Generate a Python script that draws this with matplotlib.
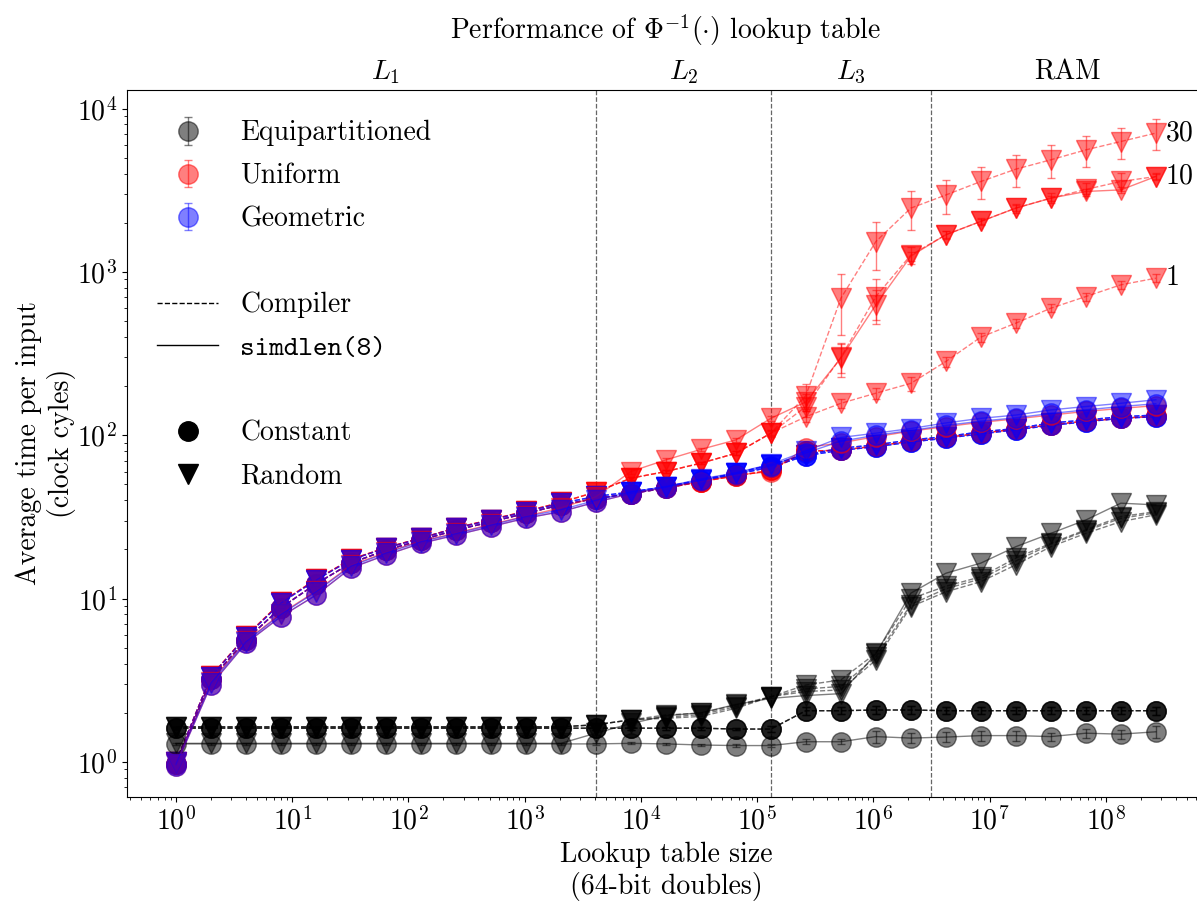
import matplotlib
matplotlib.use("Agg")
import matplotlib.pyplot as plt
from matplotlib.lines import Line2D
from matplotlib.transforms import blended_transform_factory

plt.rcParams.update({
    "font.family": "serif",
    "font.serif": ["cmr10"],
    "mathtext.fontset": "cm",
    "axes.formatter.use_mathtext": True,
    "font.size": 20,
})

# table sizes: 2^0 ... 2^28 doubles
SIZES = [2 ** k for k in range(29)]

# cache boundaries (doubles)
CACHE_EDGES = [4096, 131072, 3145728]
CACHE_LABELS = [r"$L_1$", r"$L_2$", r"$L_3$", "RAM"]
CACHE_LABEL_X = [64, 23170, 642000, 47000000]

# Equipartitioned
EQ_CONST_COMP = [1.61, 1.61, 1.61, 1.61, 1.61, 1.61, 1.61, 1.61, 1.61, 1.61, 1.61, 1.61,
                 1.61, 1.61, 1.61, 1.61, 1.59, 1.59, 2.06, 2.06, 2.08, 2.08, 2.06, 2.06,
                 2.06, 2.06, 2.06, 2.06, 2.06]
EQ_CONST_COMP_ERR = [0.02, 0.02, 0.02, 0.02, 0.02, 0.02, 0.02, 0.02, 0.02, 0.02, 0.02, 0.02,
                     0.03, 0.03, 0.03, 0.03, 0.03, 0.06, 0.12, 0.1, 0.12, 0.12, 0.1, 0.1,
                     0.1, 0.1, 0.1, 0.1, 0.12]
EQ_CONST_SIMD = [1.29, 1.29, 1.29, 1.29, 1.29, 1.29, 1.29, 1.29, 1.29, 1.29, 1.29, 1.29,
                 1.29, 1.30, 1.29, 1.27, 1.26, 1.26, 1.33, 1.33, 1.43, 1.40, 1.42, 1.45,
                 1.45, 1.43, 1.50, 1.48, 1.53]
EQ_CONST_SIMD_ERR = [0.02, 0.02, 0.02, 0.02, 0.02, 0.02, 0.02, 0.02, 0.02, 0.02, 0.02, 0.02,
                     0.02, 0.02, 0.02, 0.02, 0.02, 0.02, 0.05, 0.05, 0.12, 0.1, 0.1, 0.1,
                     0.1, 0.08, 0.1, 0.1, 0.12]
EQ_RAND_SIMD = [1.30, 1.30, 1.30, 1.30, 1.30, 1.30, 1.30, 1.30, 1.30, 1.30, 1.30, 1.30,
                1.50, 1.72, 1.92, 2.00, 2.25, 2.45, 2.55, 2.62, 4.60, 10.8, 14.3, 16.5,
                20.8, 25.1, 30.3, 38.4, 37.5]
EQ_RAND_COMP_1 = [1.64, 1.64, 1.64, 1.64, 1.64, 1.64, 1.64, 1.64, 1.64, 1.64, 1.64, 1.64,
                  1.69, 1.81, 1.85, 1.90, 2.13, 2.51, 2.70, 2.76, 4.21, 8.93, 11.0, 12.7,
                  16.1, 20.8, 25.1, 29.6, 32.6]
EQ_RAND_COMP_10 = [1.64, 1.64, 1.64, 1.64, 1.64, 1.64, 1.64, 1.64, 1.64, 1.64, 1.64, 1.64,
                   1.69, 1.81, 1.94, 1.99, 2.23, 2.51, 2.96, 3.18, 4.63, 10.0, 11.9, 13.6,
                   17.7, 21.8, 26.4, 31.8, 34.1]
EQ_RAND_COMP_30 = [1.64, 1.64, 1.64, 1.64, 1.64, 1.64, 1.64, 1.64, 1.64, 1.64, 1.64, 1.64,
                   1.69, 1.81, 1.88, 1.95, 2.18, 2.51, 2.80, 2.90, 4.40, 9.20, 11.5, 13.2,
                   17.0, 21.5, 26.0, 31.0, 33.5]

# Uniform
UNI_CONST_COMP = [0.97, 3.2, 5.6, 8.8, 12.3, 16.5, 19.8, 22.8, 26.3, 29.5, 33.3, 37.5,
                  41.0, 44.0, 47.5, 52.0, 56.5, 61.0, 80.0, 81.0, 86.0, 92.0, 97.0, 103,
                  109, 116, 122, 127, 131]
UNI_CONST_SIMD = [0.95, 2.96, 5.33, 7.76, 10.5, 15.4, 18.5, 21.8, 24.5, 27.6, 31.1, 34.1,
                  39.0, 44.0, 48.0, 52.0, 57.0, 60.0, 84.0, 90.0, 98.0, 106, 113, 120,
                  126, 133, 140, 146, 152]
UNI_RAND_COMP_1 = [1.0, 3.35, 5.9, 9.5, 13.1, 17.4, 20.5, 23.5, 27.1, 30.5, 34.3, 38.8,
                   45.0, 54.6, 60.0, 67.5, 77.6, 103, 130, 157, 181, 208, 283, 399,
                   486, 600, 707, 834, 916]
UNI_RAND_COMP_1_ERR = [0.1, 0.1, 0.1, 0.2, 0.2, 0.3, 0.3, 0.3, 0.4, 0.4, 0.5, 0.5,
                       1, 1, 1, 1, 2, 3, 10, 10, 15, 20, 20, 25,
                       30, 35, 40, 45, 50]
UNI_RAND_COMP_10 = [1.0, 3.35, 5.9, 9.5, 13.1, 17.4, 20.5, 23.5, 27.1, 30.5, 34.3, 38.8,
                    45.0, 54.6, 60.0, 67.5, 77.6, 103, 150, 300, 707, 1270, 1690, 2040,
                    2460, 2830, 3200, 3580, 3840]
UNI_RAND_COMP_10_ERR = [0.1, 0.1, 0.1, 0.2, 0.2, 0.3, 0.3, 0.3, 0.4, 0.4, 0.5, 0.5,
                        1, 1, 1, 1, 2, 4, 20, 60, 200, 150, 100, 100,
                        150, 200, 300, 450, 200]
UNI_RAND_COMP_30 = [1.0, 3.35, 5.9, 9.5, 13.1, 17.4, 20.5, 23.5, 27.1, 30.5, 34.3, 38.8,
                    45.0, 54.6, 60.0, 67.5, 77.6, 103, 175, 690, 1535, 2460, 2960, 3580,
                    4260, 4860, 5590, 6290, 7080]
UNI_RAND_COMP_30_ERR = [0.1, 0.1, 0.1, 0.2, 0.2, 0.3, 0.3, 0.3, 0.4, 0.4, 0.5, 0.5,
                        1, 1, 1, 1, 2, 5, 30, 280, 500, 650, 700, 800,
                        950, 1100, 1200, 1350, 1500]
UNI_RAND_SIMD = [0.97, 3.1, 5.5, 8.1, 11.1, 16.0, 19.2, 22.5, 25.2, 28.5, 32.0, 36.0,
                 42.0, 60.0, 70.7, 82.0, 93.7, 127, 160, 297, 629, 1250, 1690, 2040,
                 2460, 2830, 3110, 3180, 3840]
UNI_RAND_SIMD_ERR = [0.1, 0.1, 0.1, 0.2, 0.2, 0.3, 0.3, 0.3, 0.4, 0.4, 0.5, 0.5,
                     1, 2, 2, 2, 3, 5, 20, 70, 150, 80, 80, 80,
                     100, 100, 120, 150, 150]

# Geometric
GEO_CONST_COMP = [0.97, 3.2, 5.6, 8.8, 12.3, 16.5, 19.8, 22.8, 26.3, 29.5, 33.3, 37.5,
                  41.0, 44.0, 47.5, 52.5, 57.5, 64.0, 75.0, 81.0, 85.0, 91.0, 96.0, 102,
                  108, 115, 121, 127, 130]
GEO_CONST_SIMD = [0.95, 2.96, 5.33, 7.76, 10.5, 15.4, 18.5, 21.8, 24.5, 27.6, 31.1, 34.1,
                  39.0, 44.0, 48.0, 53.0, 58.0, 65.0, 78.0, 92.0, 100, 107, 115, 122,
                  128, 136, 143, 150, 156]
GEO_RAND_COMP = [1.0, 3.33, 5.85, 9.4, 13.0, 17.3, 20.4, 23.4, 27.0, 30.3, 34.1, 38.4,
                 42.2, 45.0, 48.5, 53.3, 58.6, 66.0, 76.0, 83.4, 87.4, 93.7, 98.2, 105,
                 110, 119, 124, 130, 133]
GEO_RAND_SIMD = [0.97, 3.05, 5.45, 8.0, 11.0, 15.8, 19.0, 22.3, 25.0, 28.2, 31.8, 35.0,
                 40.0, 45.0, 48.5, 54.0, 59.0, 66.5, 80.0, 97.0, 103, 110, 119, 127,
                 133, 143, 150, 157, 165]

# (values, errors, colour, linestyle, marker); compiler runs at three settings,
# distributions interleaved so overlapping red/blue mix to purple
SERIES = [
    (EQ_CONST_COMP, EQ_CONST_COMP_ERR, "k", "--", "o"),
    (UNI_CONST_COMP, None, "r", "--", "o"),
    (GEO_CONST_COMP, None, "b", "--", "o"),
    (EQ_RAND_COMP_1, None, "k", "--", "v"),
    (UNI_RAND_COMP_1, UNI_RAND_COMP_1_ERR, "r", "--", "v"),
    (GEO_RAND_COMP, None, "b", "--", "v"),
    (EQ_CONST_COMP, EQ_CONST_COMP_ERR, "k", "--", "o"),
    (UNI_CONST_COMP, None, "r", "--", "o"),
    (GEO_CONST_COMP, None, "b", "--", "o"),
    (EQ_RAND_COMP_10, None, "k", "--", "v"),
    (UNI_RAND_COMP_10, UNI_RAND_COMP_10_ERR, "r", "--", "v"),
    (GEO_RAND_COMP, None, "b", "--", "v"),
    (EQ_CONST_COMP, EQ_CONST_COMP_ERR, "k", "--", "o"),
    (UNI_CONST_COMP, None, "r", "--", "o"),
    (GEO_CONST_COMP, None, "b", "--", "o"),
    (EQ_RAND_COMP_30, None, "k", "--", "v"),
    (UNI_RAND_COMP_30, UNI_RAND_COMP_30_ERR, "r", "--", "v"),
    (GEO_RAND_COMP, None, "b", "--", "v"),
    (EQ_CONST_SIMD, EQ_CONST_SIMD_ERR, "k", "-", "o"),
    (UNI_CONST_SIMD, None, "r", "-", "o"),
    (GEO_CONST_SIMD, None, "b", "-", "o"),
    (EQ_RAND_SIMD, None, "k", "-", "v"),
    (UNI_RAND_SIMD, UNI_RAND_SIMD_ERR, "r", "-", "v"),
    (GEO_RAND_SIMD, None, "b", "-", "v"),
]

END_LABELS = [("30", UNI_RAND_COMP_30), ("10", UNI_RAND_COMP_10), ("1", UNI_RAND_COMP_1)]

fig = plt.figure(figsize=(11.97, 9.01), dpi=100)
ax = fig.add_axes([0.1061, 0.1154, 0.9004, 0.7847])

for vals, err, color, ls, marker in SERIES:
    ax.errorbar(SIZES, vals, yerr=err, color=color, ls=ls, marker=marker, ms=14,
                lw=1.0, alpha=0.5, capsize=3, elinewidth=1, capthick=1, mew=1, mec=color)

for edge in CACHE_EDGES:
    ax.axvline(edge, color="0.4", ls="--", lw=0.9)

ax.set_xscale("log")
ax.set_yscale("log")
ax.set_xlim(10 ** -0.421, 10 ** 8.85)
ax.set_ylim(0.61, 1.3e4)

trans = blended_transform_factory(ax.transData, ax.transAxes)
for label, xpos in zip(CACHE_LABELS, CACHE_LABEL_X):
    ax.text(xpos, 1.006, label, transform=trans, ha="center", va="bottom", fontsize=20)

for text, vals in END_LABELS:
    ax.annotate(text, (SIZES[-1], vals[-1]), xytext=(7, 0), textcoords="offset points",
                ha="left", va="center", fontsize=20)

ax.set_title(r"Performance of $\Phi^{-1}(\cdot)$ lookup table", fontsize=20, pad=37)
ax.set_xlabel("Lookup table size\n(64-bit doubles)", fontsize=20)
ax.set_ylabel("Average time per input\n(clock cyles)", fontsize=20, labelpad=1)
ax.tick_params(labelsize=20)

# legend
handles = []
labels = []
for color, name in [("k", "Equipartitioned"), ("r", "Uniform"), ("b", "Geometric")]:
    h = ax.errorbar([float("nan")], [float("nan")], yerr=[1], color=color, fmt="o", ms=14,
                    alpha=0.5, capsize=3, elinewidth=1, capthick=1)
    handles.append(h)
    labels.append(name)
blank = Line2D([], [], color="none")
handles += [blank,
            Line2D([], [], color="k", ls="--", lw=1.0),
            Line2D([], [], color="k", ls="-", lw=1.0),
            blank,
            Line2D([], [], color="k", marker="o", ls="none", ms=14),
            Line2D([], [], color="k", marker="v", ls="none", ms=14)]
labels += [" ", "Compiler", "simdlen(8)", " ", "Constant", "Random"]
leg = ax.legend(handles, labels, loc="upper left", frameon=False, fontsize=20,
                labelspacing=0.6, borderaxespad=0.68, handlelength=2.2, handletextpad=0.8)
leg.get_texts()[5].set_fontfamily("cmtt10")

fig.savefig("out.png", dpi=100)
